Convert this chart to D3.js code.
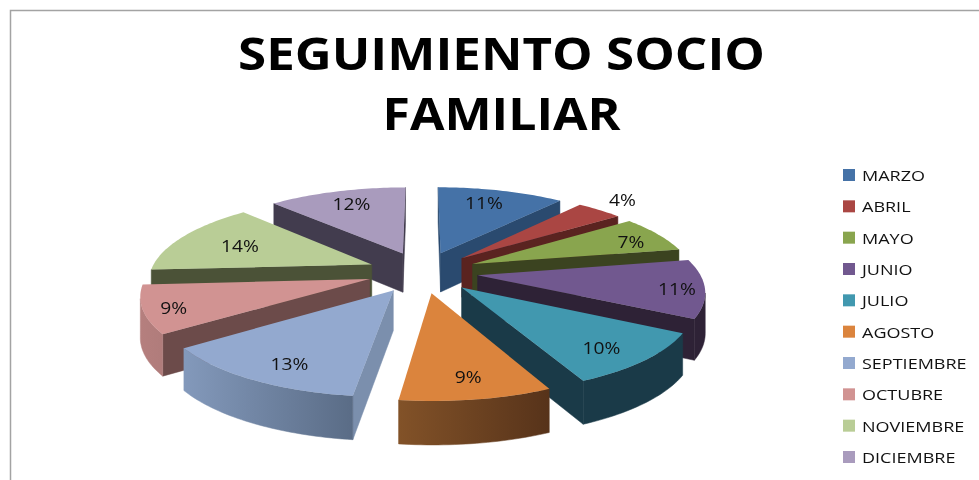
<!DOCTYPE html>
<html><head><meta charset="utf-8">
<script src="https://cdnjs.cloudflare.com/ajax/libs/d3/7.8.5/d3.min.js"></script>
<style>html,body{margin:0;padding:0;background:#fff;overflow:hidden}svg{display:block;filter:blur(0.35px)}</style>
</head><body><svg id="c" width="979" height="480"></svg>
<script>
const titleLines = ["SEGUIMIENTO SOCIO", "FAMILIAR"];
const categories = ["MARZO","ABRIL","MAYO","JUNIO","JULIO","AGOSTO","SEPTIEMBRE","OCTUBRE","NOVIEMBRE","DICIEMBRE"];
const values = [11,4,7,11,10,9,13,9,14,12];
const topColors = ["#4572a7","#aa4643","#89a54e","#71588f","#4198af","#db843d","#93a9cf","#d19392","#b9cd96","#a99bbd"];
const wallColors = ["#2a4a6f","#5a2320","#3b4320","#2e2236","#1a3a48","#825228","#7b8fad","#6c4b4a","#4b5237","#423c4e"];
const outerLeft = ["#2a4a6f","#5a2320","#3b4320","#2e2236","#1a3a48","#825228","#8399bb","#b57f7e","#4b5237","#423c4e"];
const outerRight = ["#2a4a6f","#5a2320","#3b4320","#2e2236","#1a3a48","#57331a","#5a6c86","#b07c7b","#4b5237","#423c4e"];
const paintOrder = [9,0,1,2,8,3,7,4,6,5];

const svg = d3.select("#c");
const P = 0.163, EXPLODE = 0.25;
const px = d3.scaleLinear().domain([-1,1]).range([422.5-221.5,422.5+221.5]);
const py = d3.scaleLinear().domain([-1,1]).range([272+82.4,272-82.4]);
const depth = d3.scaleLinear().domain([-1.25,1.25]).range([44,35]);
const project = (u,v,drop=false) => {
  const w = 1 + P*v;
  return [px(u/w), py(v/w) + (drop ? depth(v) : 0)];
};
const arcs = d3.pie().sort(null).value(d=>d)(values);
const defs = svg.append("defs");

// frame
svg.append("path").attr("d","M10.5,480V10.5H979").attr("fill","none").attr("stroke","#a3a3a3").attr("stroke-width",1.5);

// title
const titleWidths = [527,238];
svg.selectAll("text.title").data(titleLines).join("text").attr("class","title")
  .attr("x",501.5).attr("y",(d,i)=>70+i*60).attr("text-anchor","middle")
  .attr("font-family","'Open Sans'").attr("font-weight",700).attr("font-size",44).attr("fill","#000")
  .attr("textLength",(d,i)=>titleWidths[i]).attr("lengthAdjust","spacingAndGlyphs")
  .text(d=>d);

const poly = pts => "M" + pts.map(p=>p.join(",")).join("L") + "Z";

const chart = svg.append("g");
paintOrder.forEach(i=>{
  const a = arcs[i];
  const mid = (a.startAngle+a.endAngle)/2;
  const ou = EXPLODE*Math.sin(mid), ov = EXPLODE*Math.cos(mid);
  const n = Math.max(4,Math.round((a.endAngle-a.startAngle)/0.02));
  const thetas = d3.range(n+1).map(k=>a.startAngle+(a.endAngle-a.startAngle)*k/n);
  const rim = thetas.map(t=>[ou+Math.sin(t),ov+Math.cos(t)]);
  const apex = [ou,ov];
  const s = chart.append("g");
  const wall = (plane,fill)=>{
    const topE = plane.map(p=>project(p[0],p[1]));
    const botE = plane.map(p=>project(p[0],p[1],true)).reverse();
    s.append("path").attr("d",poly(topE.concat(botE))).attr("fill",fill).attr("stroke",fill).attr("stroke-width",0.5);
  };
  const A = project(...apex), S = project(...rim[0]), E = project(...rim[n]);
  if (S[0]-A[0] < 0) wall([apex,rim[0]],wallColors[i]);
  if (A[0]-E[0] < 0) wall([rim[n],apex],wallColors[i]);
  const vis = rim.filter((p,k)=> k<n ? project(...rim[k+1])[0] < project(...p)[0] : project(...p)[0] < project(...rim[k-1])[0]);
  if (vis.length>1){
    const id="g"+i;
    const g = defs.append("linearGradient").attr("id",id);
    g.append("stop").attr("offset",0).attr("stop-color",outerLeft[i]);
    g.append("stop").attr("offset",1).attr("stop-color",outerRight[i]);
    wall(vis,`url(#${id})`);
  }
  s.append("path").attr("d",poly([apex].concat(rim).map(p=>project(...p)))).attr("fill",topColors[i]);
});

// data labels: radial placement factor plus small offset per slice (best-fit style)
const labelFrac = [0.72,1.17,0.86,0.88,0.86,0.84,0.84,0.87,0.67,0.77];
const labelNudge = [[-2,-4],[2,-3],[-2,4],[0,2],[-15,-1],[0,-3],[12,1],[0,3],[-3,0],[1,0]];
svg.selectAll("text.lab").data(arcs).join("text").attr("class","lab")
  .each(function(a,i){
    const mid=(a.startAngle+a.endAngle)/2;
    const r=EXPLODE+labelFrac[i];
    const p=project(r*Math.sin(mid),r*Math.cos(mid));
    d3.select(this).attr("x",p[0]+labelNudge[i][0]).attr("y",p[1]+labelNudge[i][1]);
  })
  .attr("text-anchor","middle").attr("dominant-baseline","central")
  .attr("font-family","'Open Sans'").attr("font-size",16).attr("fill","#111")
  .text(a=>a.value+"%")
  .attr("textLength",function(){return this.getComputedTextLength()*1.2;}).attr("lengthAdjust","spacingAndGlyphs");

// legend
const ly = d3.scalePoint().domain(categories).range([175,457]);
const leg = svg.selectAll("g.leg").data(categories).join("g").attr("class","leg")
  .attr("transform",d=>`translate(843,${ly(d)})`);
leg.append("rect").attr("y",-6).attr("width",12).attr("height",12).attr("fill",(d,i)=>topColors[i]);
leg.append("text").attr("x",19).attr("dominant-baseline","central")
  .attr("font-family","'Open Sans'").attr("font-size",15).attr("fill","#111").text(d=>d)
  .attr("textLength",function(){return this.getComputedTextLength()*1.2;}).attr("lengthAdjust","spacingAndGlyphs");
</script></body></html>
